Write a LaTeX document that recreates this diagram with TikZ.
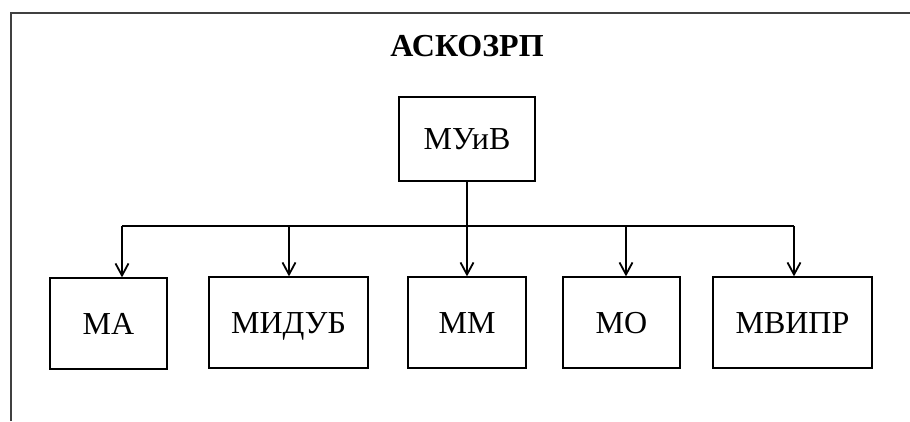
\documentclass[tikz,border=0pt]{standalone}
\usepackage{fontspec}
\setmainfont{Liberation Serif}
\usetikzlibrary{arrows.meta,positioning}

\begin{document}
\begin{tikzpicture}[x=1pt,y=-1pt,
    modbox/.style={draw,line width=1.3pt,minimum height=91pt,inner sep=0pt,
      text height=21pt,text depth=0pt,font=\fontsize{32}{38}\selectfont},
    link/.style={line width=1.3pt},
    arr/.style={link,-{Straight Barb[length=12pt,width=13pt,line width=1.8pt]}}]
    \useasboundingbox (0,0) rectangle (910,421);
    \draw[line width=2pt,black!75] (11,421)--(11,13)--(910,13);
    \node[font=\bfseries\fontsize{32}{38}\selectfont] (title) at (467,46) {АСКОЗРП};
    \node[modbox,minimum width=136pt,minimum height=84pt] (muv) at (467,139) {МУиВ};
    \node[modbox,minimum width=117pt] (ma) at (108.5,323.5) {МА};
    \node[modbox,minimum width=159pt] (midub) at (288.5,322.5) {МИДУБ};
    \node[modbox,minimum width=118pt] (mm) at (467,322.5) {ММ};
    \node[modbox,minimum width=117pt] (mo) at (621.5,322.5) {МО};
    \node[modbox,minimum width=159pt] (mvipr) at (792.5,322.5) {МВИПР};
    % bus line
    \coordinate (b1) at (122,226);
    \coordinate (b2) at (289,226);
    \coordinate (b4) at (626,226);
    \coordinate (b5) at (794,226);
    \draw[link] (b1)--(b5);
    \draw[arr] (muv.south)--(mm.north);
    \draw[arr] (b1)--(b1 |- ma.north);
    \draw[arr] (b2)--(b2 |- midub.north);
    \draw[arr] (b4)--(b4 |- mo.north);
    \draw[arr] (b5)--(b5 |- mvipr.north);
  \end{tikzpicture}
\end{document}
